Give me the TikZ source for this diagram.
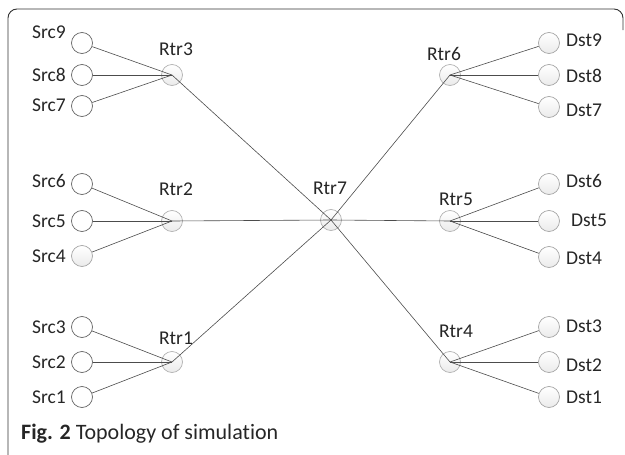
\documentclass[tikz,border=0pt]{standalone}
\usepackage{fontspec}
\setmainfont[Ligatures=NoCommon]{Carlito}
\begin{document}
\begin{tikzpicture}[x=1pt,y=-1pt,
    host/.style={circle,draw=black!60,fill=white,minimum size=21pt,inner sep=0pt,line width=0.7pt},
    dsthost/.style={circle,draw=black!35,top color=white,bottom color=black!8,minimum size=21pt,inner sep=0pt,line width=0.7pt},
    rtr/.style={circle,draw=black!30,top color=white,bottom color=black!8,minimum size=21pt,inner sep=0pt,line width=0.7pt},
    txt/.style={inner sep=0pt,text=black!85,font=\fontsize{19.5}{22}\selectfont},
    link/.style={draw=black!70,line width=0.6pt}]
                \useasboundingbox (0,0) rectangle (625,455);
                \draw[black!80,line width=0.9pt,rounded corners=9pt] (8,462) -- (8,9) -- (623,9) -- (623,30);

                % routers
                \node[rtr](R3) at (172,75) {};
                \node[rtr](R2) at (172,221) {};
                \node[rtr](R1) at (172,362) {};
                \node[rtr](R7) at (331,220) {};
                \node[rtr](R6) at (450,75) {};
                \node[rtr](R5) at (450,221) {};
                \node[rtr](R4) at (450,362) {};
                \node[txt](R3t) at (176,49) {Rtr3};
                \node[txt](R2t) at (176,189) {Rtr2};
                \node[txt](R1t) at (176,338) {Rtr1};
                \node[txt](R7t) at (330,188) {Rtr7};
                \node[txt](R6t) at (444,54) {Rtr6};
                \node[txt](R5t) at (456,199) {Rtr5};
                \node[txt](R4t) at (456,331) {Rtr4};

                % sources
                \node[host](S9) at (82,43) {};
                \node[host](S8) at (82,75) {};
                \node[host](S7) at (82,106) {};
                \node[host](S6) at (82,184) {};
                \node[host](S5) at (82,221) {};
                \node[dsthost](S4) at (82,256) {};
                \node[host](S3) at (82,327) {};
                \node[host](S2) at (82,362) {};
                \node[host](S1) at (82,397) {};
                \node[txt,anchor=east](S9t) at (66,32) {Src9};
                \node[txt,anchor=east](S8t) at (66,75) {Src8};
                \node[txt,anchor=east](S7t) at (66,105) {Src7};
                \node[txt,anchor=east](S6t) at (66,181) {Src6};
                \node[txt,anchor=east](S5t) at (66,221) {Src5};
                \node[txt,anchor=east](S4t) at (66,256) {Src4};
                \node[txt,anchor=east](S3t) at (66,327) {Src3};
                \node[txt,anchor=east](S2t) at (66,362) {Src2};
                \node[txt,anchor=east](S1t) at (66,397) {Src1};

                % destinations
                \node[dsthost](D9) at (549,43) {};
                \node[dsthost](D8) at (549,75) {};
                \node[dsthost](D7) at (549,107) {};
                \node[dsthost](D6) at (549,184) {};
                \node[dsthost](D5) at (549,221) {};
                \node[dsthost](D4) at (549,257) {};
                \node[dsthost](D3) at (549,327) {};
                \node[dsthost](D2) at (549,362) {};
                \node[dsthost](D1) at (549,397) {};
                \node[txt,anchor=west](D9t) at (566,40) {Dst9};
                \node[txt,anchor=west](D8t) at (566,76) {Dst8};
                \node[txt,anchor=west](D7t) at (566,110) {Dst7};
                \node[txt,anchor=west](D6t) at (566,181) {Dst6};
                \node[txt,anchor=west](D5t) at (571,220) {Dst5};
                \node[txt,anchor=west](D4t) at (566,258) {Dst4};
                \node[txt,anchor=west](D3t) at (566,326) {Dst3};
                \node[txt,anchor=west](D2t) at (566,365) {Dst2};
                \node[txt,anchor=west](D1t) at (566,397) {Dst1};

                % links
                \draw[link] (S9) -- (R3.center);
                \draw[link] (S8) -- (R3.center);
                \draw[link] (S7) -- (R3.center);
                \draw[link] (S6) -- (R2.center);
                \draw[link] (S5) -- (R2.center);
                \draw[link] (S4) -- (R2.center);
                \draw[link] (S3) -- (R1.center);
                \draw[link] (S2) -- (R1.center);
                \draw[link] (S1) -- (R1.center);
                \draw[link] (R3.center) -- (R7.center) -- (R4.center);
                \draw[link] (R2.center) -- (R7.center) -- (R5.center);
                \draw[link] (R1.center) -- (R7.center) -- (R6.center);
                \draw[link] (R6.center) -- (D9);
                \draw[link] (R6.center) -- (D8);
                \draw[link] (R6.center) -- (D7);
                \draw[link] (R5.center) -- (D6);
                \draw[link] (R5.center) -- (D5);
                \draw[link] (R5.center) -- (D4);
                \draw[link] (R4.center) -- (D3);
                \draw[link] (R4.center) -- (D2);
                \draw[link] (R4.center) -- (D1);

                \node[anchor=base west,inner sep=0pt,text=black!85,font=\fontsize{22}{26}\selectfont](cap) at (21,439) {\textbf{Fig. 2} Topology of simulation};
            \end{tikzpicture}
\end{document}
